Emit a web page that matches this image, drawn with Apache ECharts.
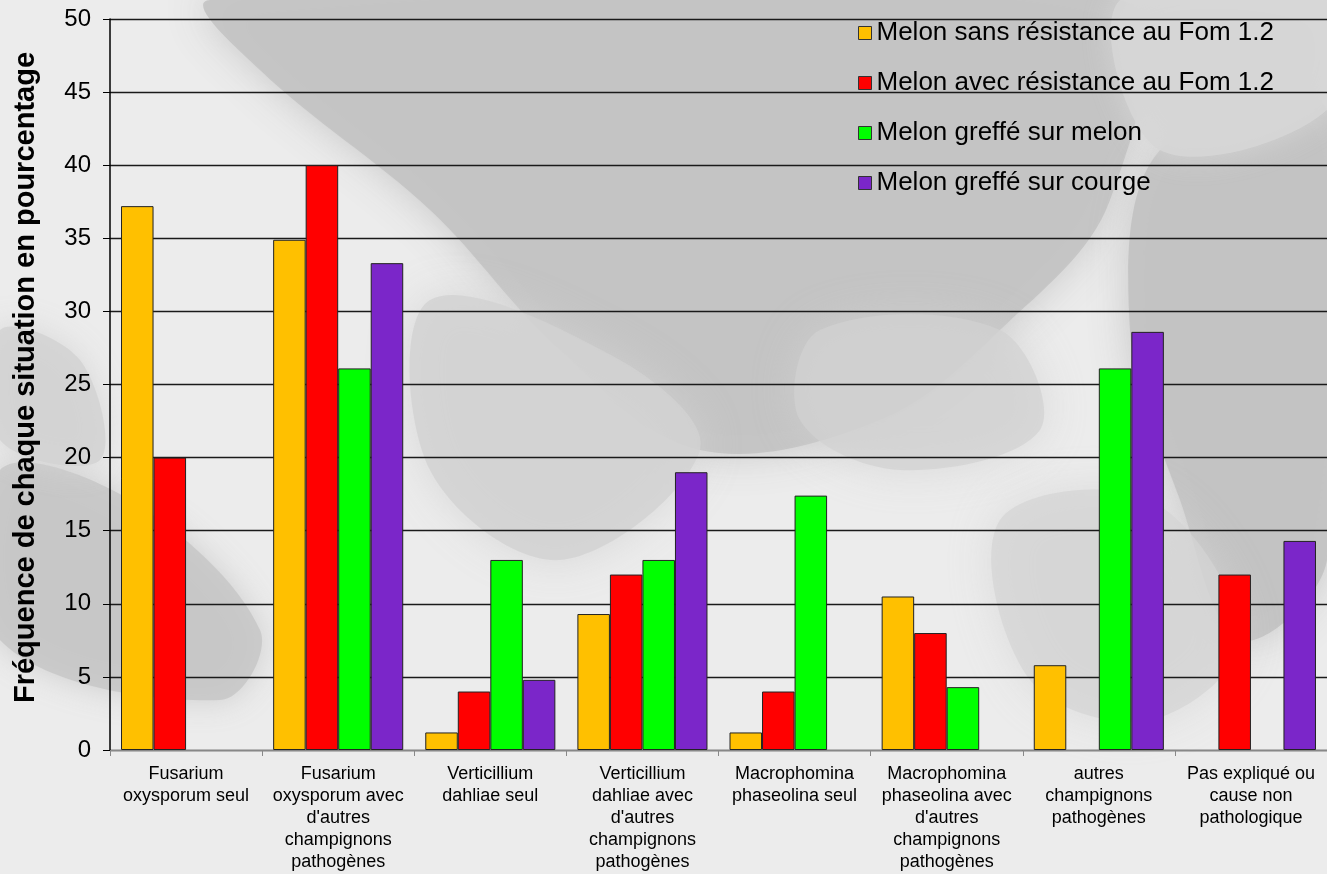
<!DOCTYPE html>
<html>
<head>
<meta charset="utf-8">
<script src="https://cdn.jsdelivr.net/npm/echarts@6/dist/echarts.min.js"></script>
<style>
html,body{margin:0;padding:0;background:#ebebeb;}
#chart{width:1327px;height:874px;}
</style>
</head>
<body>
<div id="chart"></div>
<script>
// Categories (pathogen situations) and tick labels
const categories = [
  "Fusarium\noxysporum seul",
  "Fusarium\noxysporum avec\nd'autres\nchampignons\npathogènes",
  "Verticillium\ndahliae seul",
  "Verticillium\ndahliae avec\nd'autres\nchampignons\npathogènes",
  "Macrophomina\nphaseolina seul",
  "Macrophomina\nphaseolina avec\nd'autres\nchampignons\npathogènes",
  "autres\nchampignons\npathogènes",
  "Pas expliqué ou\ncause non\npathologique"
];

const seriesNames = [
  "Melon sans résistance au Fom 1.2",
  "Melon avec résistance au Fom 1.2",
  "Melon greffé sur melon",
  "Melon greffé sur courge"
];

// Frequencies in percent ('-' = no observation)
const sansResistance = [37.2, 34.9, 1.2, 9.3, 1.2, 10.5, 5.8, '-'];
const avecResistance = [20, 40, 4, 12, 4, 8, '-', 12];
const greffeMelon    = ['-', 26.1, 13.0, 13.0, 17.4, 4.3, 26.1, '-'];
const greffeCourge   = ['-', 33.3, 4.8, 19.0, '-', '-', 28.6, 14.3];

const yTicks = { min: 0, max: 50, interval: 5 };

const colors = ['#FFC000', '#FF0000', '#00FF00', '#7B26C9'];
const values = [sansResistance, avecResistance, greffeMelon, greffeCourge];

// Grey photographic backdrop: a few soft-edged tonal patches
function patch(points, fill, opacity, blur) {
  return {
    type: 'polygon', z: -10, silent: true,
    shape: { points: points, smooth: 0.35 },
    style: { fill: fill, opacity: opacity, shadowColor: fill, shadowBlur: blur || 30 }
  };
}

const chart = echarts.init(document.getElementById('chart'), null, { renderer: 'canvas' });

const option = {
  backgroundColor: '#ececec',
  animation: false,
  textStyle: { fontFamily: 'Liberation Sans, Arial, sans-serif' },
  graphic: [
    // broad darker band across the upper middle
    patch([[210, 0], [1120, 0], [1110, 200], [1000, 330], [880, 420], [700, 450], [560, 350], [430, 210], [260, 70]], '#c3c3c3', 0.9, 40),
    // darker wedge on the right
    patch([[1160, 150], [1327, 110], [1327, 560], [1240, 640], [1180, 500], [1130, 330]], '#c2c2c2', 0.9, 40),
    // lighter grey upper right corner
    patch([[1120, 0], [1327, 0], [1327, 110], [1160, 150]], '#d6d6d6', 0.9, 30),
    // grey area low centre-left
    patch([[430, 300], [620, 360], [700, 450], [560, 560], [430, 470]], '#d2d2d2', 0.8, 40),
    // streaks low left
    patch([[0, 470], [130, 500], [260, 630], [220, 700], [0, 640]], '#c6c6c6', 0.8, 30),
    patch([[0, 330], [80, 360], [100, 460], [0, 440]], '#d2d2d2', 0.8, 30),
    // soft grey lower right
    patch([[1000, 520], [1150, 500], [1240, 640], [1150, 720], [1030, 680]], '#d4d4d4', 0.7, 40),
    patch([[820, 330], [1000, 330], [1040, 430], [900, 470], [800, 420]], '#d2d2d2', 0.7, 40)
  ],
  grid: { left: 110, right: 0, top: 19, bottom: 124, containLabel: false },
  legend: {
    orient: 'vertical',
    left: 853,
    top: 15,
    itemWidth: 13,
    itemHeight: 13,
    itemGap: 24,
    icon: 'rect',
    textStyle: { fontSize: 26, color: '#000' },
    itemStyle: { borderColor: '#333', borderWidth: 1 },
    data: seriesNames
  },
  xAxis: {
    type: 'category',
    data: categories,
    axisLine: { show: true, lineStyle: { color: '#888', width: 1 } },
    axisTick: { show: true, alignWithLabel: false, length: 6, lineStyle: { color: '#888' } },
    axisLabel: {
      interval: 0, color: '#000', fontSize: 18, lineHeight: 22, margin: 13
    },
    splitLine: { show: false }
  },
  yAxis: {
    type: 'value',
    min: yTicks.min, max: yTicks.max, interval: yTicks.interval,
    name: 'Fréquence de chaque situation en pourcentage',
    nameLocation: 'middle',
    nameGap: 70,
    nameTextStyle: { fontSize: 29, fontWeight: 'bold', color: '#000', padding: [0, 0, 0, 14] },
    axisLine: { show: true, lineStyle: { color: '#000', width: 1.5 } },
    axisTick: { show: true, inside: false, length: 7, lineStyle: { color: '#000' } },
    axisLabel: { color: '#000', fontSize: 24, margin: 19 },
    splitLine: { show: true, lineStyle: { color: '#1a1a1a', width: 1.3 } }
  },
  series: values.map((v, i) => ({
    name: seriesNames[i],
    type: 'bar',
    data: v,
    barGap: 0,
    barCategoryGap: '14.5%',
    itemStyle: { color: colors[i], borderColor: '#222', borderWidth: 1 }
  }))
};

chart.setOption(option);
</script>
</body>
</html>
